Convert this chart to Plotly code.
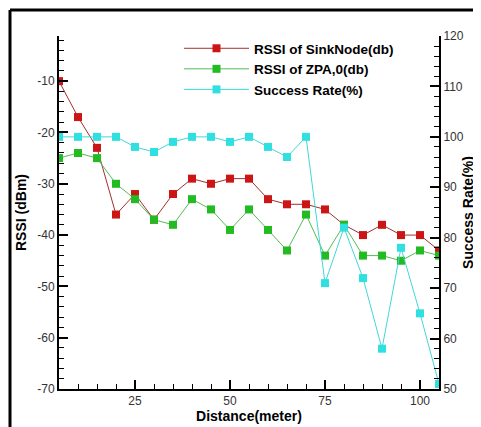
import plotly.graph_objects as go

distance = [5, 10, 15, 20, 25, 30, 35, 40, 45, 50, 55, 60, 65, 70, 75, 80, 85, 90, 95, 100, 105]
rssi_sink = [-10, -17, -23, -36, -32, -37, -32, -29, -30, -29, -29, -33, -34, -34, -35, -38, -40, -38, -40, -40, -43]
rssi_zpa = [-25, -24, -25, -30, -33, -37, -38, -33, -35, -39, -35, -39, -43, -36, -44, -38, -44, -44, -45, -43, -44]
success = [100, 100, 100, 100, 98, 97, 99, 100, 100, 99, 100, 98, 96, 100, 71, 82, 72, 58, 78, 65, 51]

names = ["RSSI of SinkNode(db)", "RSSI of ZPA,0(db)", "Success Rate(%)"]
marker_colors = ["#cc1515", "#22bb22", "#30e0e0"]
line_colors = ["#a03030", "#55bb55", "#40d8d8"]

x_ticks = [25, 50, 75, 100]
y_ticks = [-70, -60, -50, -40, -30, -20, -10]
y_ticklabels = ["-70", "-60", "-50", "-40", "-30", "-20", "-10"]
y2_ticks = [50, 60, 70, 80, 90, 100, 110, 120]

# the page body has an 8px default margin; size the figure so it fills the window
OFF = 8
W, H = 481 - OFF, 427 - OFF
L, R, T, B = 59 - OFF, 42, 36 - OFF, 38
pw, ph = W - L - R, H - T - B

def px_x(px):
    return (px - OFF - L) / pw

def px_y(py):
    return (H - B - (py - OFF)) / ph

fig = go.Figure()
fig.add_trace(go.Scatter(x=distance, y=rssi_sink, name=names[0], mode="lines+markers",
                         line=dict(color=line_colors[0], width=1),
                         marker=dict(symbol="square", size=8, color=marker_colors[0])))
fig.add_trace(go.Scatter(x=distance, y=rssi_zpa, name=names[1], mode="lines+markers",
                         line=dict(color=line_colors[1], width=1),
                         marker=dict(symbol="square", size=8, color=marker_colors[1])))
fig.add_trace(go.Scatter(x=distance, y=success, name=names[2], mode="lines+markers", yaxis="y2",
                         line=dict(color=line_colors[2], width=1),
                         marker=dict(symbol="square", size=8, color=marker_colors[2])))

font_family = "Liberation Sans, Arial, sans-serif"
tickfont = dict(family=font_family, size=12, color="#333333")
titlefont = dict(family=font_family, size=14, color="black", weight="bold")

fig.update_layout(
    width=W, height=H,
    margin=dict(l=L, r=R, t=T, b=B, autoexpand=False),
    paper_bgcolor="white", plot_bgcolor="white",
    showlegend=True,
    legend=dict(x=px_x(179), y=px_y(33), xanchor="left", yanchor="top",
                bgcolor="rgba(0,0,0,0)",
                font=dict(family=font_family, size=13.5, color="black", weight="bold"),
                tracegroupgap=0, itemwidth=65),
    xaxis=dict(range=[5, 105], tickvals=x_ticks, ticks="inside", ticklen=9, tickwidth=2,
               tickcolor="black", showline=True, linecolor="black", linewidth=2, showgrid=False,
               zeroline=False, tickfont=tickfont,
               minor=dict(dtick=5, tick0=0, ticks="inside", ticklen=5, tickwidth=1, tickcolor="black", showgrid=False),
               title=dict(text="Distance(meter)", font=titlefont, standoff=0)),
    yaxis=dict(range=[-70, -1.2], tickvals=y_ticks, ticktext=y_ticklabels, ticks="inside", ticklen=9,
               tickwidth=2, tickcolor="black", showline=True, linecolor="black", linewidth=2, showgrid=False,
               zeroline=False, tickfont=tickfont,
               minor=dict(dtick=2, tick0=0, ticks="inside", ticklen=5, tickwidth=1, tickcolor="black", showgrid=False),
               title=dict(text="RSSI (dBm)", font=titlefont, standoff=7)),
    yaxis2=dict(range=[50, 120], tickvals=y2_ticks, overlaying="y", side="right",
                ticks="inside", ticklen=9, tickwidth=2, tickcolor="black", showline=True, linecolor="black",
                linewidth=2, showgrid=False, zeroline=False, tickfont=tickfont,
                minor=dict(dtick=2, tick0=0, ticks="inside", ticklen=5, tickwidth=1, tickcolor="black", showgrid=False),
                title=dict(text="Success Rate(%)", font=titlefont, standoff=0)),
    shapes=[
        dict(type="line", xref="paper", yref="paper", x0=px_x(10), x1=px_x(10), y0=px_y(10), y1=px_y(440),
             line=dict(color="black", width=3)),
        dict(type="line", xref="paper", yref="paper", x0=px_x(10), x1=px_x(490), y0=px_y(10), y1=px_y(10),
             line=dict(color="black", width=3)),
    ],
)

fig.write_html("out.html")
